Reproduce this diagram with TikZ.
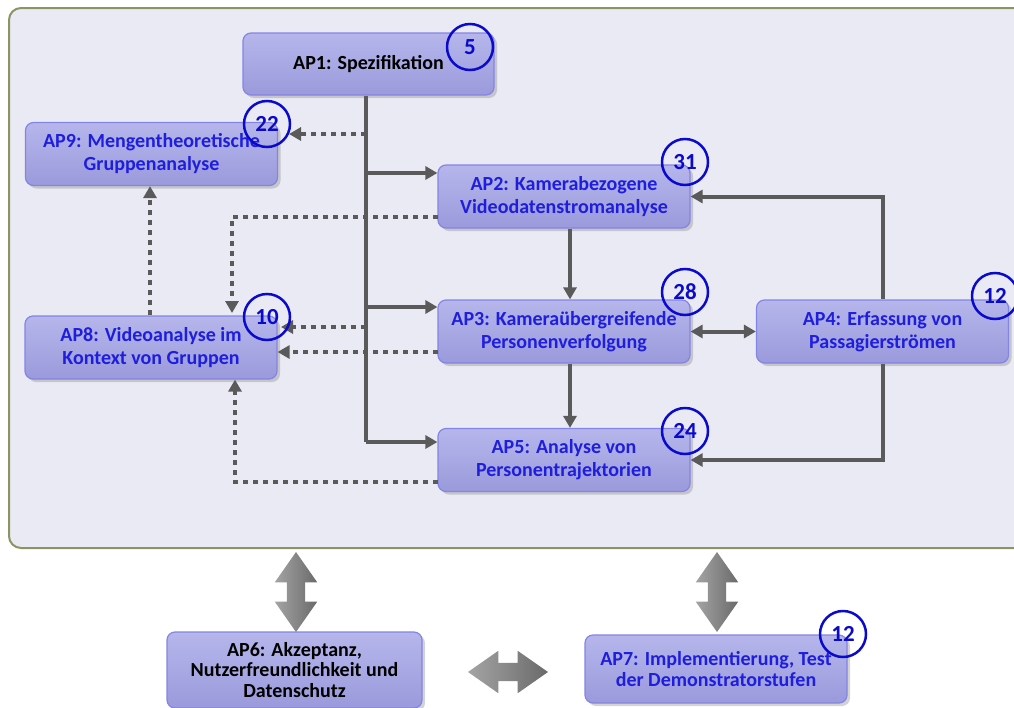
\documentclass[tikz,border=0pt]{standalone}
\usepackage{fontspec}
\setmainfont{Carlito}
\usetikzlibrary{arrows.meta,shadows,shapes.arrows,calc}
\definecolor{boxtop}{HTML}{B6B6EC}
\definecolor{boxbot}{HTML}{9A9ADC}
\definecolor{boxline}{HTML}{8484E4}
\definecolor{txtblue}{HTML}{1E1EDC}
\definecolor{circblue}{HTML}{0A0ACD}
\definecolor{connc}{HTML}{5A5A5A}
\definecolor{panelfill}{HTML}{EAEAF4}
\definecolor{panelline}{HTML}{8C9464}
\definecolor{fatlight}{HTML}{A4A4A4}
\definecolor{fatdark}{HTML}{6A6A6A}
\tikzset{
  apbox/.style={rectangle, rounded corners=8pt, draw=boxline, line width=1.2pt,
    top color=boxtop, bottom color=boxbot, minimum width=252pt, minimum height=63pt,
    align=center, font=\fontsize{20}{23}\selectfont\bfseries, text=txtblue, inner sep=2pt,
    drop shadow={shadow xshift=3pt, shadow yshift=-3pt, opacity=0.35}},
  lowbox/.style={apbox, font=\fontsize{20}{20.5}\selectfont\bfseries},
  numc/.style={circle, draw=circblue, line width=2.5pt, minimum size=46pt, inner sep=0pt,
    text=circblue, font=\fontsize{23}{24}\selectfont\bfseries},
  conn/.style={draw=connc, line width=4pt, -{Triangle[length=12pt,width=13pt]}},
  trunk/.style={draw=connc, line width=4pt},
  dotc/.style={draw=connc, line width=4.5pt, dash pattern=on 5pt off 5pt, -{Triangle[length=12pt,width=13pt]}},
  fat/.style={double arrow, minimum height=80pt, inner xsep=0pt, inner ysep=9pt,
    double arrow head extend=12pt, double arrow tip angle=70,
    draw=none, left color=fatlight, right color=fatdark}
}
\begin{document}
\begin{tikzpicture}[x=1pt,y=-1pt]
\useasboundingbox (0,0) rectangle (1014,707);
\clip (0,0) rectangle (1014,707);
% panel
\draw[fill=panelfill, draw=panelline, line width=2pt, rounded corners=12pt] (9,8) rectangle (1040,548);
% boxes
\node[apbox, text=black, minimum width=251pt, minimum height=62pt] (ap1) at (368.5,64) {AP1: Spezifikation};
\node[apbox] (ap9) at (151.5,154) {AP9: Mengentheoretische\\Gruppenanalyse};
\node[apbox] (ap2) at (564,196.5) {AP2: Kamerabezogene\\Videodatenstromanalyse};
\node[apbox] (ap8) at (151,347.5) {AP8: Videoanalyse im\\Kontext von Gruppen};
\node[apbox] (ap3) at (564,331.5) {AP3: Kameraübergreifende\\Personenverfolgung};
\node[apbox] (ap4) at (882.5,331.5) {AP4: Erfassung von\\Passagierströmen};
\node[apbox] (ap5) at (564,460) {AP5: Analyse von\\Personentrajektorien};
\node[lowbox, text=black, minimum width=255pt, minimum height=76pt] (ap6) at (294.5,670) {AP6: Akzeptanz,\\Nutzerfreundlichkeit und\\Datenschutz};
\node[lowbox, minimum width=262pt, minimum height=68pt] (ap7) at (716,669) {AP7: Implementierung, Test\\der Demonstratorstufen};
% trunk and branches
\coordinate (t9) at (366,134);
\coordinate (t2) at (366,173);
\coordinate (t3) at (366,307);
\coordinate (t8) at (366,327);
\coordinate (t5) at (366,442);
\draw[trunk] (ap1.south -| t5) -- (t5);
\draw[conn] (t5) -- (t5 -| ap5.west);
\draw[conn] (t2) -- (t2 -| ap2.west);
\draw[conn] (t3) -- (t3 -| ap3.west);
% dotted
\coordinate (e9) at (289,134);
\draw[dotc] (t9) -- (e9);
\coordinate (e8a) at (281,327);
\draw[dotc] (t8) -- (e8a);
\coordinate (s2) at (438,217);
\coordinate (k2) at (232,217);
\coordinate (e8b) at (232,313);
\draw[dotc] (s2) -- (k2) -- (e8b);
\coordinate (s3) at (438,352);
\draw[dotc] (s3) -- (s3 -| ap8.east);
\draw[dotc] (ap8.north -| 150,0) -- (ap9.south -| 150,0);
\coordinate (s5) at (438,482);
\coordinate (k5) at (235,482);
\draw[dotc] (s5) -- (k5) -- (k5 |- ap8.south);
% solid
\draw[conn] ([xshift=6pt]ap2.south) -- ([xshift=6pt]ap3.north);
\draw[conn] ([xshift=6pt]ap3.south) -- ([xshift=6pt]ap5.north);
\draw[conn, {Triangle[length=12pt,width=13pt]}-{Triangle[length=12pt,width=13pt]}] (ap3.east) -- (ap4.west);
\draw[conn] (ap4.north) |- (ap2.east);
\draw[conn] (ap4.south) |- (ap5.east);
% number circles
\node[numc] (c1) at (470,47) {5};
\node[numc] (c9) at (267,124) {22};
\node[numc] (c2) at (685,162) {31};
\node[numc] (c8) at (267,317) {10};
\node[numc] (c3) at (685,292) {28};
\node[numc] (c5) at (685,431) {24};
\node[numc] (c4) at (995,296) {12};
\node[numc] (c7) at (843,634) {12};
% fat arrows
\node[fat, rotate=90] (f6) at (296,592) {};
\node[fat, rotate=90] (f7) at (717,592) {};
\node[fat] (f67) at (508,672) {};
\end{tikzpicture}
\end{document}
